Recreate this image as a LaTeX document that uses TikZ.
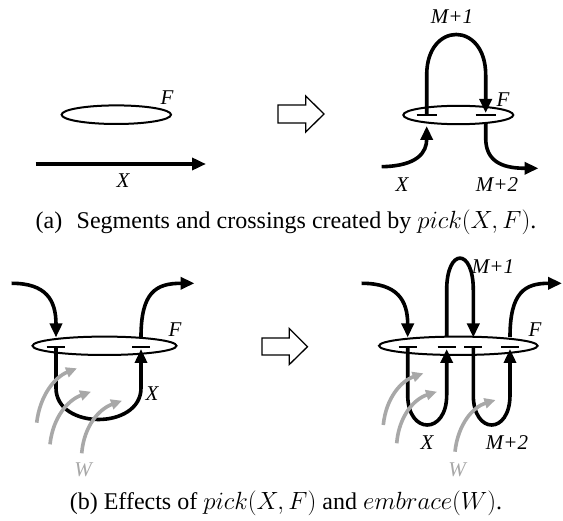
\documentclass[tikz,border=0pt]{standalone}
\usepackage[no-math]{fontspec}
\setmainfont{Liberation Serif}
\usetikzlibrary{arrows.meta}
\begin{document}
\begin{tikzpicture}[x=1pt,y=-1pt,
  strand/.style={line width=3.6pt},
  btip/.style={-{Triangle[length=14pt,width=12pt]}},
  gstrand/.style={line width=3.6pt, color=wgray, -{Triangle[length=11pt,width=10pt]}},
  ring/.style={line width=2pt},
  bar/.style={line width=2pt},
  lbl/.style={font=\fontsize{21}{24}\selectfont\itshape, inner sep=0pt},
  glbl/.style={lbl, text=wgray},
  captxt/.style={font=\fontsize{24}{28}\selectfont, inner sep=0pt},
  bigarrow/.style={line width=1.3pt, fill=white, line join=miter}
]
\definecolor{wgray}{gray}{0.66}
\useasboundingbox (0,0) rectangle (563,521);

% ===================== (a) left =====================
\draw[ring] (116.3,114.7) ellipse [x radius=54.7pt, y radius=9.3pt];
\node[lbl] (aF) at (167,98) {F};
\coordinate (aXs) at (35.7,164);
\coordinate (aXe) at (206,164);
\draw[strand,btip] (aXs) -- (aXe);
\node[lbl] (aX) at (123,181) {X};

% open arrow (a)
\draw[bigarrow] (278,105) -- (305.7,105) -- (305.7,96) -- (324,114) -- (305.7,132) -- (305.7,123) -- (278,123) -- cycle;

% ===================== (a) right =====================
\draw[ring] (458.3,115) ellipse [x radius=55pt, y radius=9.2pt];
\coordinate (aB1) at (426.7,115);
\coordinate (aB2) at (485.7,115);
\draw[bar] (416.7,115) -- (436.7,115);
\draw[bar] (475.7,115) -- (495.7,115);
% M+1 loop
\draw[strand,btip] (aB1) -- (426.7,75) .. controls (426.7,21) and (485.7,21) .. (485.7,75) -- (485.7,113);
% incoming X
\draw[strand,btip] (381.7,166.7) .. controls (418,166) and (426.7,152) .. (426.7,126);
% outgoing M+2
\draw[strand,btip] (485.7,124) -- (485.7,138) .. controls (485.7,160) and (500,168.3) .. (538.5,168.3);
\node[lbl] (aM1) at (452,17) {M+1};
\node[lbl] (aF2) at (503,100) {F};
\node[lbl] (aX2) at (402,185) {X};
\node[lbl] (aM2) at (497,185) {M+2};

\node[captxt] (capa) at (286,222) {(a)\hspace{0.6em}Segments and crossings created by $pick(X, F)$.};

% ===================== (b) left =====================
\draw[ring] (104.5,345.8) ellipse [x radius=72pt, y radius=9.2pt];
\draw[bar] (46.7,346.7) -- (65.3,346.7);
\draw[bar] (132.3,346.7) -- (150,346.7);
\draw[strand,btip] (11.7,283.3) .. controls (46,283.3) and (56,300) .. (56,337.5);
\draw[strand,btip] (56,346.7) -- (56,388) .. controls (56,430) and (141,430) .. (141,388) -- (141,349);
\draw[strand,btip] (141,337) .. controls (141,292) and (156,283.3) .. (194.5,283.3);
\draw[gstrand] (36.7,422.7) .. controls (40,395) and (55,377) .. (77,368.3);
\draw[gstrand] (50,444.3) .. controls (53,417) and (68,400) .. (91,391.7);
\draw[gstrand] (81.7,453.3) .. controls (84,426) and (99,409) .. (122,400.7);
\node[lbl] (bF) at (175,330) {F};
\node[lbl] (bX) at (152,394) {X};
\node[glbl] (bW) at (83,470) {W};

% open arrow (b)
\draw[bigarrow] (262,338) -- (289.3,338) -- (289.3,328.5) -- (307.5,346.7) -- (289.3,364.5) -- (289.3,355) -- (262,355) -- cycle;

% ===================== (b) right =====================
\draw[ring] (458.3,345.8) ellipse [x radius=79.3pt, y radius=9.2pt];
\draw[bar] (398.7,346.7) -- (416.7,346.7);
\draw[bar] (437.7,346.7) -- (455.7,346.7);
\draw[bar] (464.3,346.7) -- (482.3,346.7);
\draw[bar] (501,346.7) -- (519,346.7);
% incoming
\draw[strand,btip] (361.7,283.3) .. controls (397,283.3) and (407.7,300) .. (407.7,337.5);
% X loop
\draw[strand,btip] (407.7,346.7) -- (407.7,395) .. controls (407.7,435) and (446.7,435) .. (446.7,395) -- (446.7,349);
% M+1 loop
\draw[strand,btip] (446.7,336.8) -- (446.7,290) .. controls (446.7,247.5) and (473.3,247.5) .. (473.3,290) -- (473.3,337.5);
% M+2 loop
\draw[strand,btip] (473.3,346.7) -- (473.3,395) .. controls (473.3,435) and (510,435) .. (510,395) -- (510,349);
% outgoing
\draw[strand,btip] (510,337) .. controls (510,292) and (525,283.3) .. (562,283.3);
\draw[gstrand] (383.3,425) .. controls (386,398) and (401,381) .. (423.5,373.3);
\draw[gstrand] (396.7,443.3) .. controls (399,416) and (414,399) .. (437,391.7);
\draw[gstrand] (455,451.7) .. controls (458,424) and (473,407) .. (495.5,400);
\node[lbl] (bM1) at (493,266.7) {M+1};
\node[lbl] (bF2) at (535,330) {F};
\node[lbl] (bX2) at (427,442.7) {X};
\node[lbl] (bM2) at (507,442.7) {M+2};
\node[glbl] (bW2) at (457,470) {W};

\node[captxt] (capb) at (286,503) {(b) Effects of $pick(X, F)$ and $embrace(W)$.};
\end{tikzpicture}
\end{document}
